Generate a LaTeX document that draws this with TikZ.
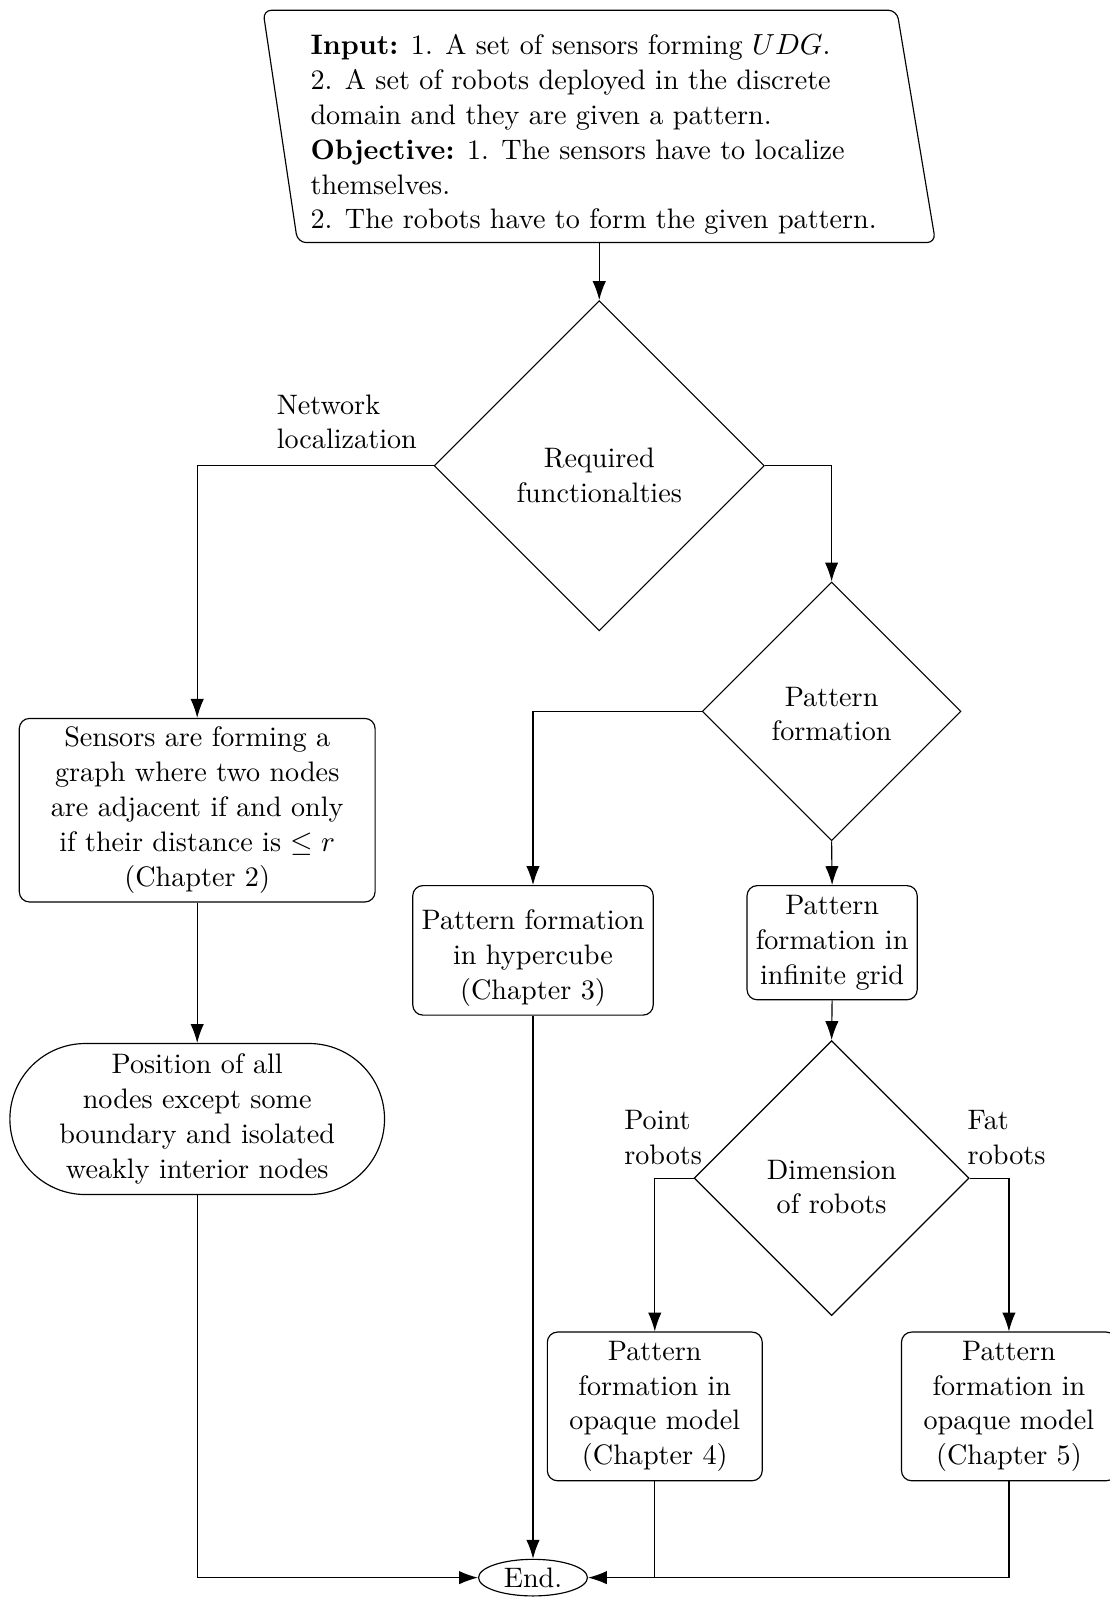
\documentclass[tikz,border=0pt]{standalone}
\usetikzlibrary{shapes.geometric,shapes.misc,arrows.meta}
\begin{document}
\begin{tikzpicture}[x=0.3509pt,y=-0.3509pt,
  every node/.style={font=\fontsize{9.7}{12}\selectfont},
  arr/.style={-{Latex[length=6.5pt,width=4.6pt]}},
  box/.style={draw,rectangle,rounded corners=3.5pt,align=center,inner sep=2pt},
  dia/.style={draw,diamond,aspect=1,inner sep=0pt,align=center},
  lbl/.style={anchor=west,inner sep=0pt,align=left}]
\useasboundingbox (0,0) rectangle (1089,1568);
% input parallelogram
\draw[rounded corners=3pt] (258,10) -- (880,10) -- (918,238) -- (292,238) -- cycle;
\node[align=left,inner sep=0pt] (input) at (582.5,132) {\textbf{Input:} 1. A set of sensors forming $UDG$.\\
2. A set of robots deployed in the discrete\\
domain and they are given a pattern.\\
\textbf{Objective:} 1. The sensors have to localize\\
themselves.\\
2. The robots have to form the given pattern.};
\coordinate (inS) at (588,238);
% diamonds
\node[dia,minimum width=113.7pt,minimum height=113.7pt] (req) at (588,457)
  {\raisebox{-4.1pt}[\height][\depth]{\begin{tabular}{@{}c@{}}Required\\functionalties\end{tabular}}};
\node[dia,minimum width=89.1pt,minimum height=89.1pt] (pf) at (816,698)
  {\raisebox{-1.8pt}[\height][\depth]{\begin{tabular}{@{}c@{}}Pattern\\formation\end{tabular}}};
\node[dia,minimum width=94.7pt,minimum height=94.7pt] (dim) at (816,1156)
  {\raisebox{-3.9pt}[\height][\depth]{\begin{tabular}{@{}c@{}}Dimension\\of robots\end{tabular}}};
% boxes
\node[box,minimum width=122.5pt,minimum height=63.2pt] (sens) at (193.5,795)
  {Sensors are forming a\\graph where two nodes\\are adjacent if and only\\if their distance is $\le r$\\(Chapter 2)};
\node[draw,rounded rectangle,align=center,inner sep=2pt,minimum width=133pt,minimum height=52pt] (pos) at (193.5,1098)
  {Position of all\\nodes except some\\boundary and isolated\\weakly interior nodes};
\node[box,minimum width=82.8pt,minimum height=44.6pt] (hyp) at (523,932.5)
  {\raisebox{-2.4pt}[\height][\depth]{\begin{tabular}{@{}c@{}}Pattern formation\\in hypercube\\(Chapter 3)\end{tabular}}};
\node[box,minimum width=58.6pt,minimum height=39.3pt] (grid) at (816.5,925)
  {Pattern\\formation in\\infinite grid};
\node[box,minimum width=74pt,minimum height=51.2pt] (ch4) at (642.5,1380)
  {Pattern\\formation in\\opaque model\\(Chapter 4)};
\node[box,minimum width=74pt,minimum height=51.2pt] (ch5) at (990,1380)
  {Pattern\\formation in\\opaque model\\(Chapter 5)};
\node[draw,ellipse,inner sep=0pt,minimum width=37.5pt,minimum height=12.6pt] (end) at (523,1548) {End.};
% labels
\node[lbl] (lnet) at (271,414) {Network\\localization};
\node[lbl] (lpoint) at (612,1116) {Point\\robots};
\node[lbl] (lfat) at (949,1116) {Fat\\robots};
% connectors
\draw[arr] (inS) -- (req.north);
\draw[arr] (req.west) -| (sens.north);
\draw[arr] (req.east) -| (pf.north);
\draw[arr] (pf.west) -| (hyp.north);
\draw[arr] (pf.south) -- (grid.north);
\draw[arr] (sens.south) -- (pos.north);
\draw[arr] (pos.south) |- (end.west);
\draw[arr] (hyp.south) -- (end.north);
\draw[arr] (grid.south) -- (dim.north);
\draw[arr] (dim.west) -| (ch4.north);
\draw[arr] (dim.east) -| (ch5.north);
\draw[arr] (ch5.south) |- (end.east);
\draw (ch4.south) -- (ch4.south |- end.east);
\end{tikzpicture}
\end{document}
